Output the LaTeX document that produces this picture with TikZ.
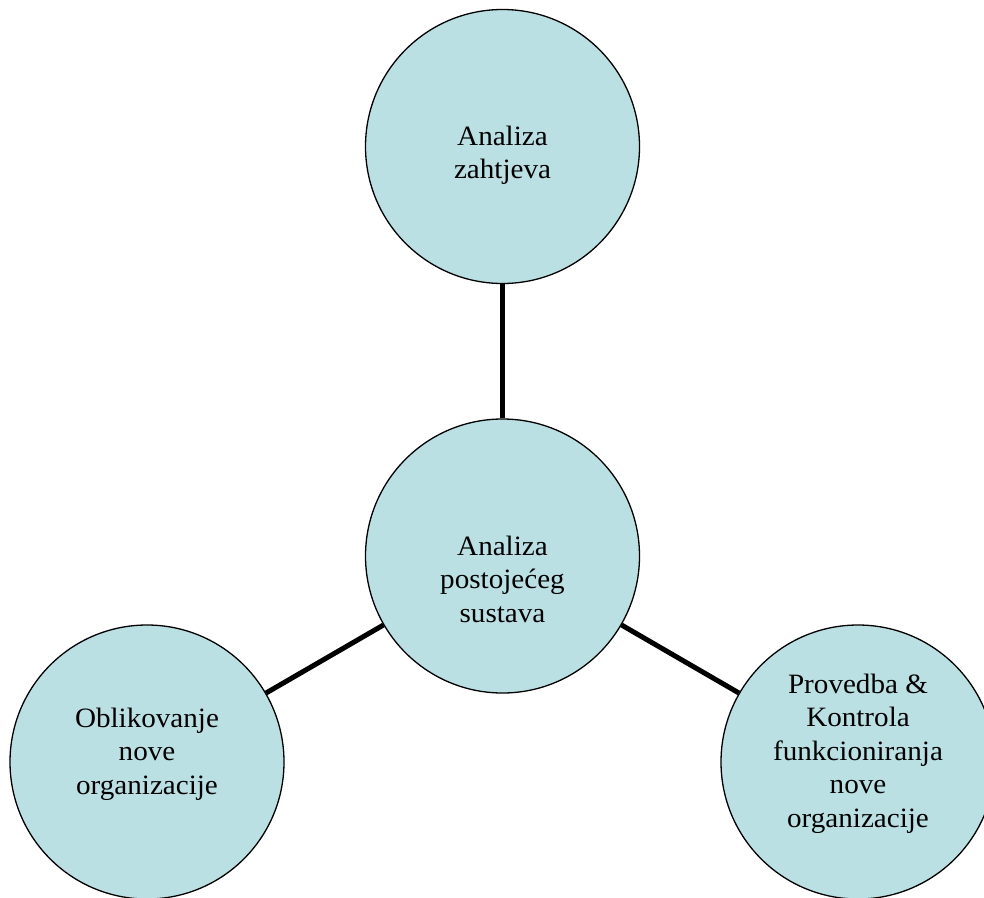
\documentclass[tikz,border=0pt]{standalone}
\usepackage{fontspec}
\setmainfont[FakeStretch=1.04]{Liberation Serif}
\definecolor{circfill}{RGB}{187,224,227}
\begin{document}
\begin{tikzpicture}[x=1pt,y=-1pt,
  bubble/.style={circle,draw=black,line width=1.3pt,fill=circfill,minimum size=274pt,inner sep=0pt},
  txt/.style={align=center,inner sep=0pt,font=\fontsize{28pt}{33.5pt}\selectfont},
  link/.style={line width=5pt,draw=black}]
\useasboundingbox (0,0) rectangle (984,897);
\node[bubble,label={[txt,yshift=-8.8pt]center:Analiza\\zahtjeva}] (top) at (502.5,146.5) {};
\node[bubble,label={[txt,yshift=-23pt]center:Analiza\\postojećeg\\sustava}] (mid) at (502.5,556) {};
\node[bubble,label={[txt,yshift=8pt]center:Oblikovanje\\nove\\organizacije}] (left) at (147,762) {};
\node[bubble,label={[txt,yshift=8.5pt]center:Provedba \&\\Kontrola\\funkcioniranja\\nove\\organizacije}] (right) at (858,762) {};
\draw[link] (mid) -- (top);
\draw[link] (mid) -- (left);
\draw[link] (mid) -- (right);
\end{tikzpicture}
\end{document}
